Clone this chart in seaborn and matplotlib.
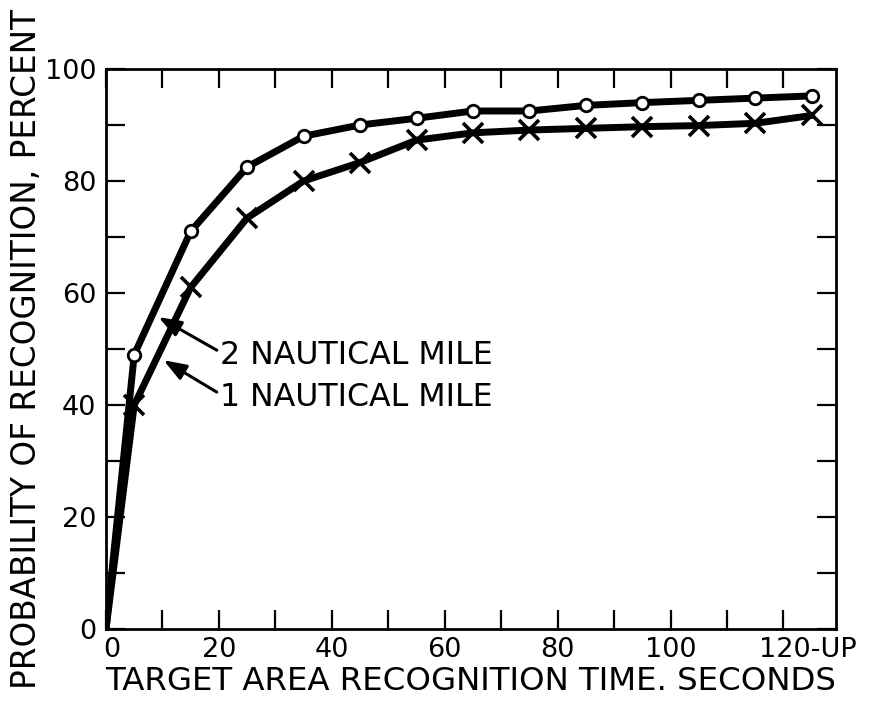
import matplotlib
matplotlib.use("Agg")
import matplotlib.pyplot as plt
import matplotlib.transforms as mtransforms
import seaborn as sns
import pandas as pd

# ---- data ----
time_sec = [0, 5, 15, 25, 35, 45, 55, 65, 75, 85, 95, 105, 115, 125]
two_nm = [0, 49, 71, 82.5, 88, 90, 91.2, 92.5, 92.5, 93.5, 94, 94.4, 94.8, 95.2]
one_nm = [0, 40, 61, 73.4, 80, 83.3, 87.3, 88.6, 89.1, 89.4, 89.7, 89.9, 90.3, 91.7]
x_ticks = [0, 20, 40, 60, 80, 100, 120]
x_tick_labels = ["0", "20", "40", "60", "80", "100", "120-UP"]
y_ticks = [0, 20, 40, 60, 80, 100]
y_tick_labels = ["0", "20", "40", "60", "80", "100"]
label_two = "2 NAUTICAL MILE"
label_one = "1 NAUTICAL MILE"

df = pd.DataFrame({"time": time_sec, "two": two_nm, "one": one_nm})

sns.set_theme(style="ticks", rc={
    "text.color": "black", "axes.labelcolor": "black",
    "xtick.color": "black", "ytick.color": "black", "axes.edgecolor": "black",
})
plt.rcParams["font.family"] = ["DejaVu Sans"]

fig = plt.figure(figsize=(8.74, 7.03), dpi=100)
ax = fig.add_axes([106 / 874, 1 - 629 / 703, (836 - 106) / 874, (629 - 69) / 703])

mark_idx = list(range(1, len(time_sec)))
sns.lineplot(data=df, x="time", y="one", ax=ax, color="black", lw=5,
             marker="x", markersize=14, markeredgewidth=2.6, markeredgecolor="black",
             markevery=mark_idx, zorder=3)
sns.lineplot(data=df, x="time", y="two", ax=ax, color="black", lw=5,
             marker="o", markersize=9, markerfacecolor="white", markeredgecolor="black",
             markeredgewidth=2, markevery=mark_idx, zorder=4)

ax.set_xlim(0, 129.3)
ax.set_ylim(0, 100)

ax.set_xticks(x_ticks)
ax.set_xticklabels(x_tick_labels)
ax.set_xticks(list(range(10, 130, 20)), minor=True)
ax.set_yticks(y_ticks)
ax.set_yticklabels(y_tick_labels)
ax.set_yticks(list(range(10, 100, 20)), minor=True)

for which in ("major", "minor"):
    ax.tick_params(axis="both", which=which, direction="in", length=14, width=1.6,
                   top=True, right=True, color="black")
ax.tick_params(axis="x", which="major", labelsize=19.5, pad=6, labelcolor="black")
ax.tick_params(axis="y", which="major", labelsize=19.5, pad=7, labelcolor="black")

for sp in ax.spines.values():
    sp.set_visible(True)
    sp.set_linewidth(2)
    sp.set_color("black")

# nudge "0" slightly right, and centre the number of "120-UP" on its tick
first = ax.get_xticklabels()[0]
first.set_transform(first.get_transform() + mtransforms.ScaledTranslation(6 / 100, 0, fig.dpi_scale_trans))
last = ax.get_xticklabels()[-1]
last.set_horizontalalignment("left")
last.set_transform(last.get_transform() + mtransforms.ScaledTranslation(-24 / 100, 0, fig.dpi_scale_trans))

ax.set_xlabel("TARGET AREA RECOGNITION TIME. SECONDS", fontsize=23.3, labelpad=2, color="black")
ax.set_ylabel("PROBABILITY OF RECOGNITION, PERCENT", fontsize=23.5, labelpad=1, color="black")

arrow = dict(arrowstyle="-|>,head_length=0.6,head_width=0.22", color="black", lw=2.2,
             relpos=(0, 0.6), shrinkA=0, shrinkB=0)
ax.annotate(label_two, xy=(9.3, 55.7), xytext=(20.2, 48.9), fontsize=22.8,
            ha="left", va="center", color="black", arrowprops=arrow)
ax.annotate(label_one, xy=(10.2, 48.0), xytext=(20.2, 41.4), fontsize=22.8,
            ha="left", va="center", color="black", arrowprops=arrow)

fig.savefig("out.png", dpi=100)
